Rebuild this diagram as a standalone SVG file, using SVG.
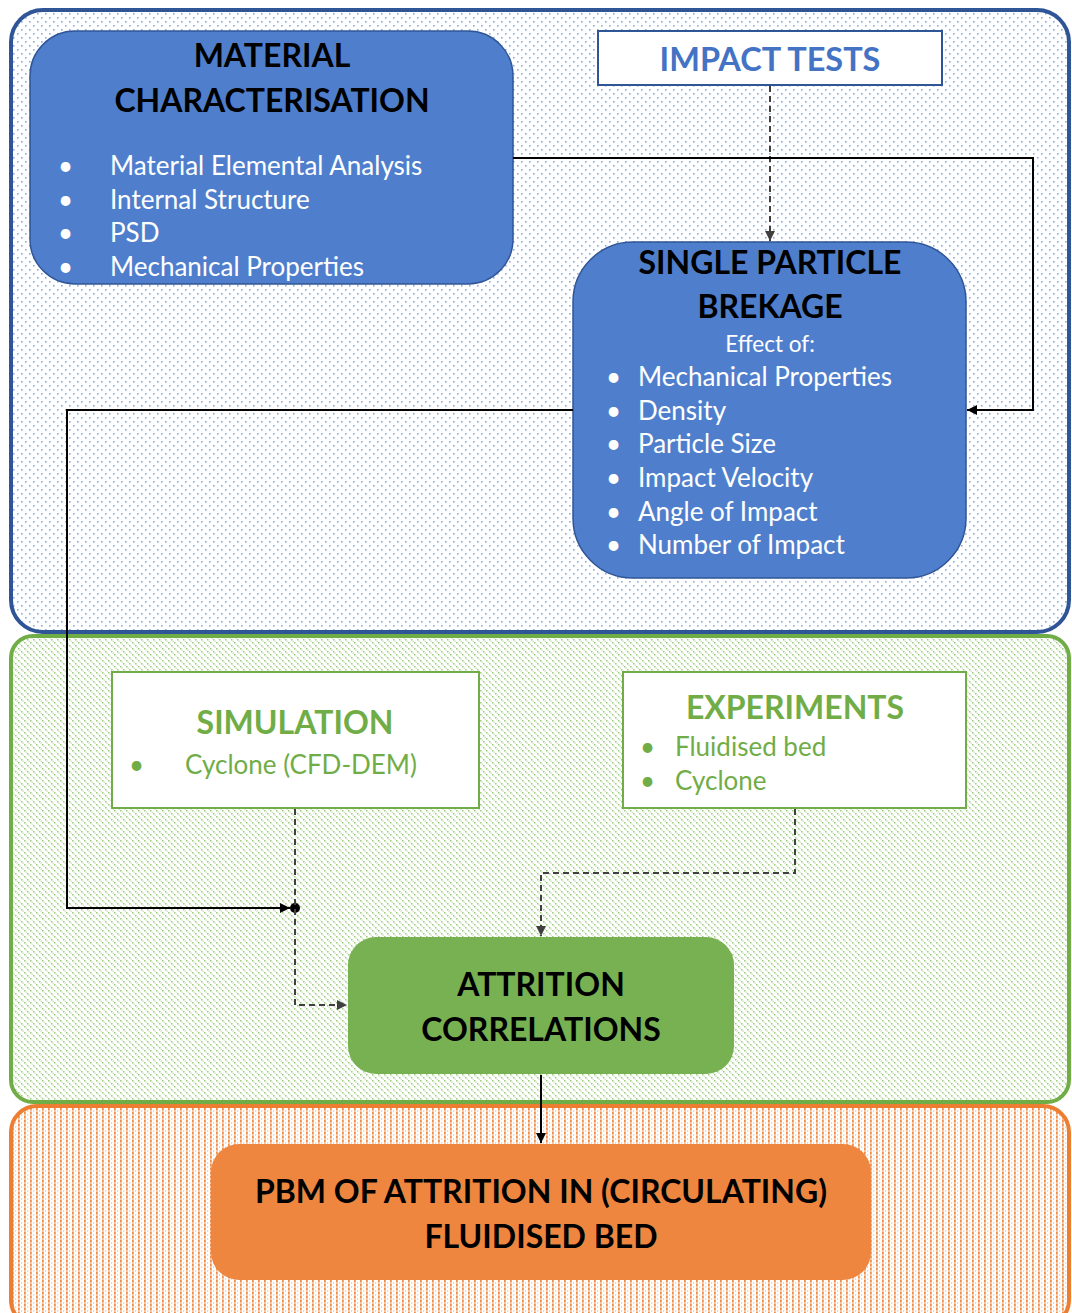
<svg xmlns="http://www.w3.org/2000/svg" width="1072" height="1313" viewBox="0 0 1072 1313">
<defs>
<pattern id="pBlue" width="8" height="8" patternUnits="userSpaceOnUse">
<rect width="8" height="8" fill="#fff"/>
<rect x="1" y="1" width="1.6" height="1.6" fill="#86AEE0"/>
<rect x="5" y="5" width="1.6" height="1.6" fill="#86AEE0"/>
</pattern>
<pattern id="pGreen" width="6" height="6" patternUnits="userSpaceOnUse">
<rect width="6" height="6" fill="#fff"/>
<rect x="0" y="0" width="1.5" height="1.5" fill="#9CCB7E"/>
<rect x="3" y="3" width="1.5" height="1.5" fill="#9CCB7E"/>
<rect x="1.5" y="1.5" width="1.5" height="1.5" fill="#D3E8C5"/>
<rect x="4.5" y="4.5" width="1.5" height="1.5" fill="#D3E8C5"/>
</pattern>
<pattern id="pOrange" width="6" height="4" patternUnits="userSpaceOnUse">
<rect width="6" height="4" fill="#fff"/>
<rect x="0" y="0" width="1.8" height="2" fill="#F08F4C"/>
<rect x="0" y="2" width="1.8" height="2" fill="#F7C29B"/>
<rect x="3" y="2" width="1.2" height="2" fill="#F9D4B8"/>
</pattern>
<marker id="ah" viewBox="0 0 10 10" refX="10" refY="5" markerWidth="10" markerHeight="10" markerUnits="userSpaceOnUse" orient="auto">
<path d="M0,0 L10,5 L0,10 Z" fill="#000"/>
</marker>
<marker id="ahg" viewBox="0 0 10 10" refX="10" refY="5" markerWidth="10" markerHeight="10" markerUnits="userSpaceOnUse" orient="auto">
<path d="M0,0 L10,5 L0,10 Z" fill="#404040"/>
</marker>
<style>
.t{font-family:Lato,"Open Sans",sans-serif}
.title{font-weight:bold;font-size:32px;fill:#000;text-anchor:middle}
.wb{font-size:26px;fill:#fff}
.gt{font-weight:bold;font-size:32px;fill:#70AD47;text-anchor:middle}
.gb{font-size:26px;fill:#70AD47}
.solid{fill:none;stroke:#000;stroke-width:2}
.dash{fill:none;stroke:#404040;stroke-width:2;stroke-dasharray:6 4}
</style>
</defs>

<g id="panel-blue"><rect x="11" y="10" width="1058" height="622" rx="32" fill="url(#pBlue)" stroke="#2F5597" stroke-width="4"/></g>
<g id="panel-green"><rect x="11" y="636" width="1058" height="466" rx="22" fill="url(#pGreen)" stroke="#70AD47" stroke-width="4"/></g>
<g id="panel-orange"><rect x="11" y="1106" width="1058" height="220" rx="26" fill="url(#pOrange)" stroke="#ED7D31" stroke-width="4"/></g>

<g id="material" class="t">
<rect x="30" y="31" width="483" height="253" rx="45" fill="#4F7FCC" stroke="#2F5597" stroke-width="1.5"/>
<text class="title" x="272" y="67">MATERIAL</text>
<text class="title" x="272" y="112">CHARACTERISATION</text>
<g class="wb">
<text x="58" y="175">•</text><text x="110" y="175">Material Elemental Analysis</text>
<text x="58" y="209">•</text><text x="110" y="209">Internal Structure</text>
<text x="58" y="242">•</text><text x="110" y="242">PSD</text>
<text x="58" y="276">•</text><text x="110" y="276">Mechanical Properties</text>
</g>
</g>

<g id="impact" class="t">
<rect x="598" y="31" width="344" height="54" fill="#fff" stroke="#2F5597" stroke-width="2"/>
<text x="770" y="71" text-anchor="middle" font-weight="bold" font-size="32.5" fill="#4472C4">IMPACT TESTS</text>
</g>

<g id="single" class="t">
<rect x="573" y="242" width="393" height="336" rx="60" fill="#4F7FCC" stroke="#2F5597" stroke-width="1.5"/>
<text class="title" x="770" y="274">SINGLE PARTICLE</text>
<text class="title" x="770" y="318">BREKAGE</text>
<text x="770" y="352" text-anchor="middle" font-size="22.5" fill="#fff">Effect of:</text>
<g class="wb">
<text x="606" y="386">•</text><text x="638" y="386">Mechanical Properties</text>
<text x="606" y="420">•</text><text x="638" y="420">Density</text>
<text x="606" y="453">•</text><text x="638" y="453">Particle Size</text>
<text x="606" y="487">•</text><text x="638" y="487">Impact Velocity</text>
<text x="606" y="521">•</text><text x="638" y="521">Angle of Impact</text>
<text x="606" y="554">•</text><text x="638" y="554">Number of Impact</text>
</g>
</g>

<g id="simulation" class="t">
<rect x="112" y="672" width="367" height="136" fill="#fff" stroke="#70AD47" stroke-width="2"/>
<text class="gt" x="295" y="734">SIMULATION</text>
<text class="gb" x="129" y="774">•</text><text class="gb" x="185" y="774" font-size="29.5">Cyclone (CFD-DEM)</text>
</g>

<g id="experiments" class="t">
<rect x="623" y="672" width="343" height="136" fill="#fff" stroke="#70AD47" stroke-width="2"/>
<text class="gt" x="795" y="719">EXPERIMENTS</text>
<text class="gb" x="640" y="756">•</text><text class="gb" x="675" y="756">Fluidised bed</text>
<text class="gb" x="640" y="790">•</text><text class="gb" x="675" y="790">Cyclone</text>
</g>

<g id="attrition" class="t">
<rect x="348" y="937" width="386" height="137" rx="28" fill="#78B152"/>
<text class="title" x="541" y="996">ATTRITION</text>
<text class="title" x="541" y="1041">CORRELATIONS</text>
</g>

<g id="pbm" class="t">
<rect x="211" y="1144" width="660" height="136" rx="28" fill="#EE8640"/>
<text class="title" x="541" y="1203" font-size="33">PBM OF ATTRITION IN (CIRCULATING)</text>
<text class="title" x="541" y="1248" font-size="33">FLUIDISED BED</text>
</g>

<g id="connectors">
<path class="dash" d="M770,86 V241" marker-end="url(#ahg)"/>
<path class="solid" d="M513,158 H1033 V410 H967" marker-end="url(#ah)"/>
<path class="solid" d="M573,410 H67 V908 H290" marker-end="url(#ah)"/>
<circle cx="295" cy="908" r="5" fill="#000"/>
<path class="dash" d="M295,809 V1005 H347" marker-end="url(#ahg)"/>
<path class="dash" d="M795,809 V873 H541 V936" marker-end="url(#ahg)"/>
<path class="solid" d="M541,1075 V1143" marker-end="url(#ah)"/>
</g>
</svg>
